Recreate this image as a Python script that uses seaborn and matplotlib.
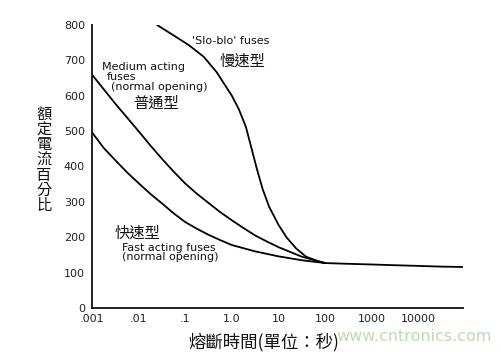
import pandas as pd
import matplotlib.pyplot as plt
import seaborn as sns

# values (time in s, rated current in %)
slo_t = [0.025, 0.05, 0.12, 0.25, 0.47, 1.0, 1.41, 2.0, 2.63, 3.39, 4.57, 6.3, 10, 14.8, 24, 39, 74, 100]
slo_v = [800, 775, 743, 710, 667, 600, 562, 512, 452, 396, 336, 286, 235, 200, 168, 145, 131, 127]

med_t = [0.001, 0.00178, 0.00316, 0.00562, 0.01, 0.0178, 0.0316, 0.0562, 0.1, 0.178,
         0.316, 0.562, 1.0, 1.78, 3.16, 5.62, 10, 31.6, 100]
med_v = [660, 619, 578, 539, 500, 460, 422, 386, 352, 323,
         297, 271, 248, 226, 205, 188, 172, 145, 127]

fast_t = [0.001, 0.00178, 0.00316, 0.00562, 0.01, 0.0178, 0.0316, 0.0562, 0.1, 0.178,
          0.316, 0.562, 1.0, 3.16, 10, 31.6, 100]
fast_v = [497, 453, 418, 384, 353, 323, 296, 268, 243, 224,
          207, 192, 178, 160, 146, 135, 127]

tail_t = [100, 300, 1000, 3000, 10000, 30000, 87000]
tail_v = [127, 125, 123, 121, 119, 117, 116]

xticks = [0.001, 0.01, 0.1, 1, 10, 100, 1000, 10000]
xlabels = [".001", ".01", ".1", "1.0", "10", "100", "1000", "10000"]
yticks = [0, 100, 200, 300, 400, 500, 600, 700, 800]

sns.set_style("white")
plt.rcParams['font.family'] = ['DejaVu Sans', 'Noto Sans CJK TC']
cjk = ['Noto Sans CJK TC', 'DejaVu Sans']

fig = plt.figure(figsize=(5.02, 3.52), dpi=100)
ax = fig.add_axes([0.183, 0.125, 0.739, 0.804])

for t, v in [(slo_t, slo_v), (med_t, med_v), (fast_t, fast_v), (tail_t, tail_v)]:
    df = pd.DataFrame({"t": t, "v": v})
    sns.lineplot(data=df, x="t", y="v", color="black", linewidth=1.3,
                 estimator=None, sort=False, ax=ax)

ax.set_xscale("log")
ax.set_xlim(0.001, 10 ** 4.95)
ax.set_ylim(0, 800)
ax.set_xticks(xticks)
ax.set_xticklabels(xlabels)
ax.minorticks_off()
ax.set_yticks(yticks)
ax.set_xlabel("")
ax.set_ylabel("")
ax.tick_params(axis="x", direction="in", length=3, width=1, labelsize=8, pad=4, colors="#222222")
ax.tick_params(axis="y", direction="out", length=4, width=1, labelsize=8, pad=1, colors="#222222")
sns.despine(ax=ax)
for s in ["left", "bottom"]:
    ax.spines[s].set_linewidth(1.3)
    ax.spines[s].set_color("#111111")

# curve annotations
ax.text(0.138, 754, "'Slo-blo' fuses", fontsize=8, va="center", color="#111111")
ax.text(0.54, 698, "慢速型", fontsize=11, va="center", family=cjk, color="#111111")
ax.text(0.00163, 681, "Medium acting", fontsize=8, va="center", color="#111111")
ax.text(0.0021, 653, "fuses", fontsize=8, va="center", color="#111111")
ax.text(0.00257, 624, "(normal opening)", fontsize=8, va="center", color="#111111")
ax.text(0.0076, 579, "普通型", fontsize=11, va="center", family=cjk, color="#111111")
ax.text(0.0031, 212, "快速型", fontsize=11, va="center", family=cjk, color="#111111")
ax.text(0.0044, 169, "Fast acting fuses", fontsize=8, va="center", color="#111111")
ax.text(0.0044, 144, "(normal opening)", fontsize=8, va="center", color="#111111")

# axis titles
fig.text(44 / 502, 0.545, "\n".join("額定電流百分比"), fontsize=11, family=cjk,
         ha="center", va="center", linespacing=0.86, color="#111111")
fig.text(0.525, 0.028, "熔斷時間(單位：秒)", fontsize=12.5, family=cjk,
         ha="center", va="center", color="#111111")
fig.text(0.98, 0.045, "www.cntronics.com", fontsize=11.5, ha="right", va="center",
         color="#bddbb2")

fig.savefig("out.png", dpi=100)
